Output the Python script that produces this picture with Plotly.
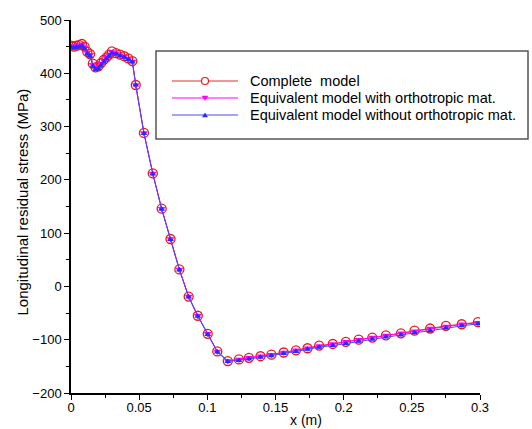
import plotly.graph_objects as go

# Position along the plate (m)
x_pos = [0.000, 0.002, 0.004, 0.006, 0.008, 0.010, 0.012, 0.014, 0.016, 0.018,
         0.020, 0.022, 0.024, 0.026, 0.028, 0.030, 0.033, 0.036, 0.039, 0.042,
         0.045, 0.0475, 0.0535, 0.060, 0.0665, 0.073, 0.0795, 0.0863, 0.093,
         0.1003, 0.1073, 0.115, 0.1232, 0.1305, 0.139, 0.147, 0.156, 0.165,
         0.1735, 0.182, 0.192, 0.2016, 0.211, 0.221, 0.231, 0.242, 0.252,
         0.2634, 0.275, 0.2866, 0.2985]

# Longitudinal residual stress (MPa)
complete_model = [452, 450, 452, 453, 455, 450, 440, 436, 418, 411,
                  413, 419, 425, 430, 435, 441, 438, 435, 432, 428,
                  423, 378, 288, 212, 146, 89, 32, -19, -55,
                  -89, -122, -140, -137, -134, -131, -128, -124, -120,
                  -116, -111, -108, -104, -100, -96, -92, -88, -83,
                  -79, -74, -71, -67]
orthotropic = [451, 450, 451, 452, 454, 449, 439, 435, 416, 410,
               412, 418, 424, 429, 434, 440, 437, 434, 431, 427,
               422, 378, 288, 212, 146, 89, 32, -19, -55,
               -89, -122, -140, -137, -134, -131, -128, -124, -120,
               -116, -112, -108, -104, -100, -96, -92, -88, -84,
               -79, -75, -71, -68]
no_orthotropic = [449, 448, 449, 450, 451, 446, 436, 432, 413, 407,
                  409, 415, 421, 427, 432, 438, 436, 433, 430, 426,
                  421, 378, 287, 211, 145, 88, 31, -20, -56,
                  -90, -123, -141, -139, -136, -133, -130, -126, -122,
                  -118, -114, -111, -107, -103, -99, -95, -91, -87,
                  -83, -78, -74, -70]

series_names = ["Complete  model",
                "Equivalent model with orthotropic mat.",
                "Equivalent model without orthotropic mat."]
line_colors = ["#e03030", "#ff00ff", "#4848ff"]
marker_colors = ["#e81818", "#ff00ff", "#2a2aff"]

x_ticks = [0, 0.05, 0.1, 0.15, 0.2, 0.25, 0.3]
x_ticktext = ["0", "0.05", "0.1", "0.15", "0.2", "0.25", "0.3"]

FONT = "Arial, Liberation Sans, sans-serif"
W, H = 532, 429
ML, MR, MT, MB = 71, 52, 20, 36
PW, PH = W - ML - MR, H - MT - MB


def px_x(px):
    """Pixel column -> paper x."""
    return (px - ML) / PW


def px_y(py):
    """Pixel row -> paper y."""
    return (H - MB - py) / PH


fig = go.Figure()
fig.add_trace(go.Scatter(
    x=x_pos, y=complete_model, name=series_names[0], mode="lines+markers",
    line=dict(color=line_colors[0], width=1),
    marker=dict(symbol="circle-open", size=9, color=marker_colors[0],
                line=dict(width=1.3, color=marker_colors[0]))))
fig.add_trace(go.Scatter(
    x=x_pos, y=orthotropic, name=series_names[1], mode="lines+markers",
    line=dict(color=line_colors[1], width=1),
    marker=dict(symbol="triangle-down", size=7, color=marker_colors[1])))
fig.add_trace(go.Scatter(
    x=x_pos, y=no_orthotropic, name=series_names[2], mode="lines+markers",
    line=dict(color=line_colors[2], width=1),
    marker=dict(symbol="triangle-up", size=6, color=marker_colors[2])))

axis_common = dict(
    showline=True, linecolor="black", linewidth=1.5, mirror=False,
    ticks="outside", ticklen=5, tickwidth=1, tickcolor="black",
    showgrid=False, zeroline=False,
    tickfont=dict(family=FONT, size=13, color="black"),
)

fig.update_xaxes(
    range=[0, 0.3], tickvals=x_ticks, ticktext=x_ticktext,
    ticklabelstandoff=-3,
    minor=dict(ticks="outside", ticklen=3, dtick=0.025, tickcolor="black"),
    **axis_common)
fig.update_yaxes(
    range=[-200, 500], dtick=100,
    minor=dict(ticks="outside", ticklen=3, dtick=50, tickcolor="black"),
    **axis_common)

annotations = [
    dict(text="x (m)", xref="paper", yref="paper", x=px_x(306), y=px_y(429),
         xanchor="center", yanchor="bottom", showarrow=False, borderpad=0,
         font=dict(family=FONT, size=14, color="black")),
    dict(text="Longitudinal residual stress (MPa)", xref="paper", yref="paper",
         x=px_x(21.5), y=px_y(202), xanchor="center", yanchor="middle",
         textangle=-90, showarrow=False,
         font=dict(family=FONT, size=15, color="black")),
]

# Framed legend: box, sample lines with marker glyphs, and labels
shapes = [dict(type="rect", xref="paper", yref="paper",
               x0=px_x(156), x1=px_x(528), y0=px_y(139), y1=px_y(51),
               line=dict(color="#555555", width=1.5), fillcolor="white",
               layer="below")]
row_y = [81, 98, 115]
sample_x0, sample_x1, text_x = 172, 238, 248
mid = (sample_x0 + sample_x1) / 2
# glyph paths in pixel units, y pointing up
glyph_paths = [
    None,
    "M-3,2 L3,2 L0,-2.5 Z",    # downward triangle
    "M-2.5,-2 L2.5,-2 L0,2 Z",  # upward triangle
]
for i, name in enumerate(series_names):
    yy = px_y(row_y[i])
    shapes.append(dict(type="line", xref="paper", yref="paper",
                       x0=px_x(sample_x0), x1=px_x(sample_x1), y0=yy, y1=yy,
                       line=dict(color=line_colors[i], width=1)))
    if glyph_paths[i] is None:
        shapes.append(dict(type="circle", xref="paper", yref="paper",
                           xsizemode="pixel", ysizemode="pixel",
                           xanchor=px_x(mid), yanchor=yy,
                           x0=-3.5, x1=3.5, y0=-3.5, y1=3.5,
                           line=dict(color=marker_colors[i], width=1.2),
                           fillcolor="white"))
    else:
        shapes.append(dict(type="path", xref="paper", yref="paper",
                           xsizemode="pixel", ysizemode="pixel",
                           xanchor=px_x(mid), yanchor=yy,
                           path=glyph_paths[i],
                           line=dict(color=marker_colors[i], width=0.5),
                           fillcolor=marker_colors[i]))
    annotations.append(dict(text=name, xref="paper", yref="paper",
                            x=px_x(text_x), y=yy, xanchor="left",
                            yanchor="middle", showarrow=False,
                            font=dict(family=FONT, size=14.5, color="black")))

fig.update_layout(
    width=W, height=H,
    margin=dict(l=ML, r=MR, t=MT, b=MB, autoexpand=False),
    paper_bgcolor="white", plot_bgcolor="white",
    showlegend=False,
    shapes=shapes,
    annotations=annotations,
)

fig.write_html("out.html")
